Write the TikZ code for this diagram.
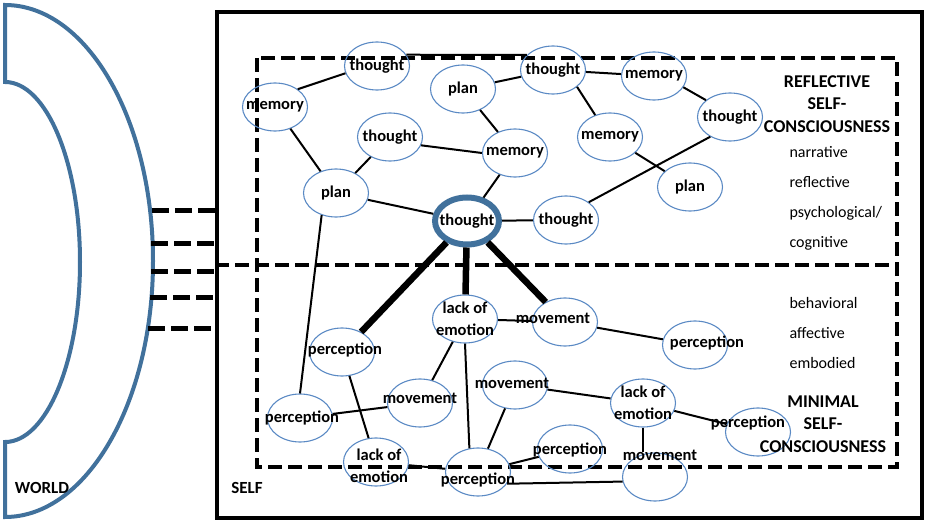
\documentclass[tikz,border=0pt]{standalone}
\usepackage{fontspec}
\setmainfont{Carlito}
\usetikzlibrary{shapes.geometric}

\definecolor{worldblue}{RGB}{65,113,156}
\definecolor{bubbleblue}{RGB}{91,138,196}

\begin{document}
\begin{tikzpicture}[
    x=1pt, y=-1pt,
    bubble/.style={ellipse, draw=bubbleblue, line width=1.1pt,
                   minimum width=65pt, minimum height=48pt, inner sep=0pt},
    hub/.style={bubble, draw=worldblue, line width=6pt,
                minimum width=64pt, minimum height=47pt},
    word/.style={font=\fontsize{16.5}{22}\selectfont\bfseries, align=center, inner sep=0pt},
    link/.style={line width=2pt},
    strong/.style={line width=6.5pt},
    tie/.style={line width=5pt, dash pattern=on 17pt off 6pt},
    zone/.style={line width=4pt, dash pattern=on 14pt off 6pt},
    heading/.style={font=\fontsize{18}{22.5}\selectfont\bfseries, align=center},
    aspect/.style={font=\fontsize{16}{30}\selectfont, align=left, anchor=west},
]
    \useasboundingbox (0,0) rectangle (928,521);

    % world
    \draw[worldblue, line width=4pt, line join=miter]
        (5,5) -- (5,82)
        .. controls (46.4,82) and (80,162.6) .. (80,262)
        .. controls (80,361.4) and (46.4,442) .. (5,442)
        -- (5,517)
        .. controls (86.7,517) and (153,402.4) .. (153,261)
        .. controls (153,119.6) and (86.7,5) .. cycle;
    \node[font=\fontsize{17}{18}\selectfont\bfseries] (world) at (42,488) {WORLD};

    % self
    \node[draw, line width=4pt, minimum width=705pt, minimum height=506pt,
          inner sep=0pt] (self) at (569.5,265) {};
    \node[font=\fontsize{17}{18}\selectfont\bfseries] (selflabel) at (247,488) {SELF};
    \draw[zone] (257,58) rectangle (897,467);
    \draw[zone] (self.west |- 0,265) -- (893,265);

    \draw[tie] (152,211) -- (self.west |- 0,211);
    \draw[tie] (151,244) -- (self.west |- 0,244);
    \draw[tie] (151,271) -- (self.west |- 0,271);
    \draw[tie] (150,297) -- (self.west |- 0,297);
    \draw[tie] (148,328) -- (self.west |- 0,328);

    % reflective
    \node[bubble, label={[word]center:thought}] (thoughtA) at (377,66) {};
    \node[bubble, label={[word]center:memory}] (memoryA) at (275,107) {};
    \node[bubble, label={[word]center:plan}] (planA) at (463,89) {};
    \node[bubble, label={[word]center:thought}] (thoughtB) at (553,70) {};
    \node[bubble, label={[word]center:memory}] (memoryB) at (654,76) {};
    \node[bubble, label={[word]center:thought}] (thoughtC) at (390,137) {};
    \node[bubble, label={[word]center:memory}] (memoryC) at (515,153) {};
    \node[bubble, label={[word]center:memory}] (memoryD) at (610,137) {};
    \node[bubble, label={[word]center:thought}] (thoughtD) at (730,117) {};
    \node[bubble, label={[word]center:plan}] (planB) at (336,193) {};
    \node[bubble, label={[word]center:plan}] (planC) at (690,187) {};
    \node[hub, label={[word]center:thought}] (thoughtMain) at (467,221) {};
    \node[bubble, label={[word]center:thought}] (thoughtE) at (566,220) {};

    % minimal
    \node[bubble, label={[word]center:{lack of\\emotion}}] (lackA) at (465,319) {};
    \node[bubble, label={[word, xshift=-12pt, yshift=4pt]center:movement}] (movementA) at (565,322) {};
    \node[bubble, label={[word, xshift=12pt, yshift=2pt]center:perception}] (perceptionA) at (695,345) {};
    \node[bubble, label={[word, xshift=3pt, yshift=2pt]center:perception}] (perceptionB) at (342,352) {};
    \node[bubble, label={[word, yshift=5pt]center:movement}] (movementB) at (420,403) {};
    \node[bubble, label={[word, xshift=2pt]center:perception}] (perceptionC) at (300,418) {};
    \node[bubble, label={[word, xshift=3pt, yshift=-4pt]center:{lack of\\emotion}}] (lackB) at (376,462) {};
    \node[bubble, label={[word, yshift=-8pt]center:perception}] (perceptionD) at (478,472) {};
    \node[bubble, label={[word, xshift=-3pt, yshift=2pt]center:movement}] (movementC) at (515,385) {};
    \node[bubble, label={[word]center:{lack of\\emotion}}] (lackC) at (643,403) {};
    \node[bubble, label={[word, yshift=-1pt]center:perception}] (perceptionE) at (570,449) {};
    \node[bubble, label={[word, xshift=-10pt, yshift=9pt]center:perception}] (perceptionF) at (758,432) {};
    \node[bubble, label={[word, xshift=5pt, yshift=22pt]center:movement}] (movementD) at (655,477) {};

    % texts
    \node[heading] (reflective) at (827,104) {REFLECTIVE\\SELF-\\CONSCIOUSNESS};
    \node[aspect] (upperaspects) at (786,198) {narrative\\reflective\\psychological/\\cognitive};
    \node[aspect] (loweraspects) at (786,333) {behavioral\\affective\\embodied};
    \node[heading] (minimal) at (823,424) {MINIMAL\\SELF-\\CONSCIOUSNESS};

    % links
    \draw[link] (memoryA.38) -- (thoughtA.193);
    \draw[link] (thoughtA.21) -- (thoughtB.150);
    \draw[link] (thoughtB) -- (planA);
    \draw[link] (thoughtB) -- (memoryB);
    \draw[link] (thoughtB.-35) -- (memoryD.124);
    \draw[link] (memoryB.-21) -- (thoughtD.145);
    \draw[link] (memoryD) -- (planC);
    \draw[link] (thoughtD.225) -- (thoughtE.38);
    \draw[link] (planA) -- (memoryC);
    \draw[link] (thoughtC.-15) -- (memoryC.west);
    \draw[link] (thoughtC) -- (planB);
    \draw[link] (memoryA) -- (planB);
    \draw[link] (planB) -- (thoughtMain);
    \draw[link] (memoryC) -- (thoughtMain);
    \draw[link] (thoughtMain) -- (thoughtE);
    \draw[link] (planB.237) -- (perceptionC.north);

    \draw[strong] (thoughtMain) -- (perceptionB);
    \draw[strong] (thoughtMain) -- (lackA);
    \draw[strong] (thoughtMain) -- (movementA);

    \draw[link] (lackA) -- (movementA);
    \draw[link] (movementA) -- (perceptionA);
    \draw[link] (lackA) -- (movementB);
    \draw[link] (lackA.south) -- (perceptionD.110);
    \draw[link] (perceptionB) -- (lackB);
    \draw[link] (perceptionC) -- (movementB);
    \draw[link] (movementC) -- (perceptionD);
    \draw[link] (movementC) -- (lackC);
    \draw[link] (lackC) -- (perceptionF);
    \draw[link] (lackC.south) -- (lackC.south |- movementD.north);
    \draw[link] (lackB) -- (perceptionD);
    \draw[link] (perceptionD) -- (perceptionE);
    \draw[link] (perceptionD.-22) -- (movementD.188);

\end{tikzpicture}
\end{document}
